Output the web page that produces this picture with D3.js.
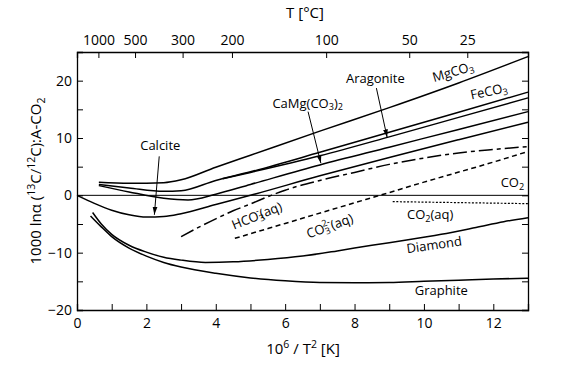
<!DOCTYPE html>
<html>
<head>
<meta charset="utf-8">
<script src="https://cdn.jsdelivr.net/npm/d3@7"></script>
<style>
  body { margin: 0; background: #fff; }
  svg { font-family: "Open Sans", "Noto Sans", sans-serif; }
</style>
</head>
<body>
<div id="chart"></div>
<script>
// values: x = 10^6/T^2, y = 1000 ln alpha (mineral - CO2)
const mgco3 = [[0.63, 2.3], [1.5, 2.1], [2.5, 2.2], [3, 2.7], [4, 4.9], [5, 7.0], [7, 11.2], [9, 15.3], [11, 19.6], [13, 24.2]];
const feco3 = [[0.63, 1.9], [1.5, 1.3], [2.5, 0.7], [3, 0.8], [4, 2.6], [5, 4.1], [7, 7.5], [9, 11.0], [11, 14.5], [13, 18.0]];
const aragonite = [[4.2, 2.9], [5, 4.0], [7, 6.9], [9, 10.2], [11, 13.6], [13, 17.0]];
const dolomite = [[0.63, 1.7], [1.5, 0.6], [2.5, -0.5], [3.2, -0.8], [4, 0.2], [5, 1.9], [7, 5.3], [9, 8.4], [11, 11.5], [13, 14.6]];
const calcite = [[0, 0], [0.5, -1.4], [1, -2.6], [1.5, -3.4], [2, -3.8], [2.5, -3.7], [3, -3.2], [4, -1.6], [5, 0.0], [7, 3.4], [9, 6.6], [11, 9.7], [13, 12.75]];
const hco3 = [[3.0, -7.2], [3.5, -5.6], [4, -4.1], [4.5, -2.7], [5, -1.5], [5.6, 0], [6, 0.9], [7, 2.6], [8, 4.0], [9, 5.4], [10, 6.5], [11, 7.4], [12, 8.0], [13, 8.5]];
const co3 = [[4.55, -7.5], [6, -4.9], [8, -1.3], [8.73, 0], [10, 2.3], [12, 5.8], [13, 7.65]];
const co2aq = [[9.1, -1.1], [13, -1.45]];
const diamond = [[0.45, -3.0], [0.7, -5.0], [1.0, -6.8], [1.5, -8.7], [2, -9.9], [2.5, -10.8], [3, -11.3], [3.7, -11.7], [4.5, -11.6], [5.5, -11.2], [6.5, -10.6], [7.5, -9.7], [8.5, -8.7], [9.5, -7.8], [10.5, -6.8], [11.5, -5.6], [12.3, -4.6], [13, -3.9]];
const graphite = [[0.39, -3.6], [0.7, -5.5], [1, -7.2], [1.5, -9.2], [2, -10.6], [2.5, -11.7], [3, -12.5], [4, -13.6], [5, -14.4], [6, -14.9], [7, -15.2], [8, -15.25], [9, -15.2], [10, -15.0], [11, -14.8], [12, -14.6], [13, -14.45]];

const xTicks = d3.range(0, 14);
const xTickLabels = [0, 2, 4, 6, 8, 10, 12];
const yTicks = d3.range(-20, 26, 5);
const yTickLabels = [-20, -10, 0, 10, 20];
const tempLabels = [1000, 500, 300, 200, 100, 50, 25];

const width = 578;
const height = 365;
const margin = { top: 52, right: 50, bottom: 55, left: 77 };

const svg = d3.select("#chart").append("svg")
  .attr("width", width)
  .attr("height", height);

const x = d3.scaleLinear().domain([0, 13]).range([margin.left, width - margin.right]);
const y = d3.scaleLinear().domain([-20, 25]).range([height - margin.bottom, margin.top]);

svg.append("defs").append("marker")
  .attr("id", "arrow")
  .attr("viewBox", "0 0 8 6")
  .attr("refX", 8)
  .attr("refY", 3)
  .attr("markerWidth", 8)
  .attr("markerHeight", 6)
  .attr("markerUnits", "userSpaceOnUse")
  .attr("orient", "auto")
  .append("path")
  .attr("d", "M0,0.6L8,3L0,5.4Z")
  .attr("fill", "#000");

// frame + axes, all ticks pointing inward
const minus = d => String(d).replace("-", "\u2212");

svg.append("g")
  .attr("transform", `translate(0,${y(-20)})`)
  .call(d3.axisBottom(x).tickValues(xTicks).tickSize(-6).tickPadding(8)
    .tickFormat(d => xTickLabels.includes(d) ? d : ""));

svg.append("g")
  .attr("transform", `translate(${x(0)},0)`)
  .call(d3.axisLeft(y).tickValues(yTicks).tickSize(-6).tickPadding(5)
    .tickFormat(d => yTickLabels.includes(d) ? minus(d) : ""));

svg.append("g")
  .attr("transform", `translate(${x(13)},0)`)
  .call(d3.axisRight(y).tickValues(yTicks).tickSize(-6).tickFormat(""));

svg.append("g")
  .attr("transform", `translate(0,${y(25)})`)
  .call(d3.axisTop(x).tickValues(tempLabels.map(t => 1e6 / Math.pow(t + 273.15, 2)))
    .tickSize(-6).tickPadding(7).tickFormat((d, i) => tempLabels[i]));

svg.selectAll(".domain").attr("stroke", "#000").attr("stroke-width", 1.3);
svg.selectAll(".tick line").attr("stroke", "#000").attr("stroke-width", 1);
svg.selectAll(".tick text").attr("font-size", 14).attr("fill", "#000")
  .attr("font-family", "'Open Sans', sans-serif");

// CO2 reference line
svg.append("line")
  .attr("x1", x(0)).attr("x2", x(13))
  .attr("y1", y(0)).attr("y2", y(0))
  .attr("stroke", "#000").attr("stroke-width", 1);

const line = d3.line()
  .x(d => x(d[0]))
  .y(d => y(d[1]))
  .curve(d3.curveMonotoneX);

const curves = [
  { data: mgco3, dash: null },
  { data: feco3, dash: null },
  { data: aragonite, dash: null },
  { data: dolomite, dash: null },
  { data: calcite, dash: null },
  { data: diamond, dash: null },
  { data: graphite, dash: null },
  { data: hco3, dash: "14,4,4,4" },
  { data: co3, dash: "5,3.5" },
  { data: co2aq, dash: "2,1.6" }
];

svg.append("g").selectAll("path")
  .data(curves)
  .enter()
  .append("path")
  .attr("d", d => line(d.data))
  .attr("fill", "none")
  .attr("stroke", "#000")
  .attr("stroke-width", d => d.data === co2aq ? 1.2 : 1.5)
  .attr("stroke-dasharray", d => d.dash);

// text with sub/superscripts
function richText(sel, parts, size) {
  let shift = 0;
  parts.forEach(p => {
    const target = p.sub ? size * 0.28 : p.sup ? -size * 0.38 : 0;
    const ts = sel.append("tspan").text(p.t).attr("dy", target - shift);
    if (p.sub || p.sup) ts.attr("font-size", size * 0.7);
    if (p.dx) ts.attr("dx", p.dx);
    shift = target;
  });
  return sel;
}

function label(parts, px, py, rot, size) {
  const t = svg.append("text")
    .attr("transform", `translate(${x(px)},${y(py)}) rotate(${rot || 0})`)
    .attr("text-anchor", "middle")
    .attr("dominant-baseline", "middle")
    .attr("font-size", size || 13);
  richText(t, parts, size || 13);
}

function arrow(x1, y1, x2, y2) {
  svg.append("line")
    .attr("x1", x(x1)).attr("y1", y(y1))
    .attr("x2", x(x2)).attr("y2", y(y2))
    .attr("stroke", "#000").attr("stroke-width", 1)
    .attr("marker-end", "url(#arrow)");
}

label([{ t: "MgCO" }, { t: "3", sub: true }], 10.85, 21.3, -16);
label([{ t: "FeCO" }, { t: "3", sub: true }], 11.88, 17.9, -12);
label([{ t: "Aragonite" }], 8.6, 20.2, 0);
arrow(8.63, 18.7, 8.94, 10.1);
label([{ t: "CaMg(CO" }, { t: "3", sub: true }, { t: ")" }, { t: "2", sub: true }], 6.65, 15.8, 0);
arrow(6.66, 14.6, 7.03, 5.6);
label([{ t: "Calcite" }], 2.4, 8.4, 0);
arrow(2.37, 6.8, 2.23, -3.4);
label([{ t: "CO" }, { t: "2", sub: true }], 12.55, 2.0, 0);
label([{ t: "CO" }, { t: "2", sub: true }, { t: "(aq)" }], 10.18, -3.6, 0);
label([{ t: "Diamond" }], 10.3, -8.9, -8);
label([{ t: "Graphite" }], 10.5, -16.8, 0);
label([{ t: "HCO" }, { t: "3", sub: true }, { t: "-", sup: true, dx: -6 }, { t: "(aq)" }], 5.2, -3.8, -22);
label([{ t: "CO" }, { t: "3", sub: true }, { t: "2-", sup: true, dx: -6 }, { t: "(aq)" }], 7.3, -5.6, -20);

// axis titles
richText(svg.append("text")
  .attr("x", 305).attr("y", 18)
  .attr("text-anchor", "middle")
  .attr("font-size", 15), [{ t: "T [°C]" }], 15);

richText(svg.append("text")
  .attr("x", 303).attr("y", 354)
  .attr("text-anchor", "middle")
  .attr("font-size", 15), [{ t: "10" }, { t: "6", sup: true }, { t: " / T" }, { t: "2", sup: true }, { t: " [K]" }], 15);

richText(svg.append("text")
  .attr("transform", "translate(41,181) rotate(-90)")
  .attr("text-anchor", "middle")
  .attr("font-size", 15),
  [{ t: "1000 ln\u03b1 (" }, { t: "13", sup: true }, { t: "C/" }, { t: "12", sup: true }, { t: "C):A-CO" }, { t: "2", sub: true }], 15);
</script>
</body>
</html>
